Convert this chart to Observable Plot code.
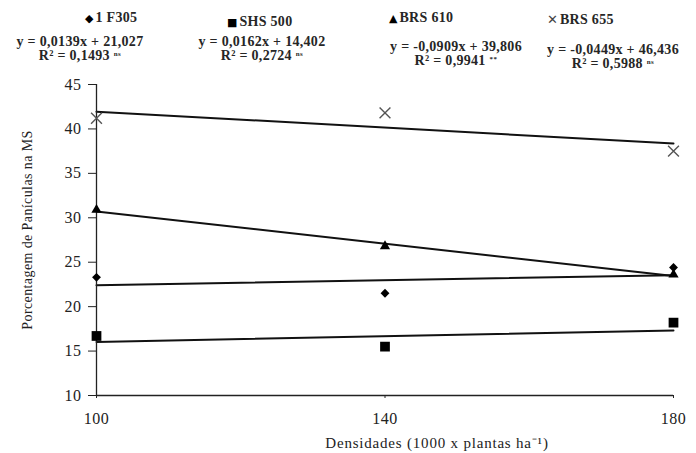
<!DOCTYPE html>
<html>
<head>
<meta charset="utf-8">
<script src="https://cdn.jsdelivr.net/npm/d3@7"></script>
<script src="https://cdn.jsdelivr.net/npm/@observablehq/plot@0.6"></script>
<style>
  html, body { margin: 0; padding: 0; background: #fff; }
  #wrap { position: relative; width: 696px; height: 453px; font-family: "Liberation Serif", "Times New Roman", serif; color: #222; }
  #wrap svg { position: absolute; left: 0; top: 0; }
  .hd { position: absolute; font-size: 14px; font-weight: bold; white-space: nowrap; line-height: 1; letter-spacing: 0.3px; color: #262626; }
  .eq { transform: translate(-50%, -50%); }
  .lg { transform: translate(0, -50%); }
  .sym { font-family: "DejaVu Sans", sans-serif; font-size: 11px; margin-right: 2px; letter-spacing: 0; color: #000; }
  .sym.x { font-size: 13px; color: #444; font-weight: normal; }
  sup.s { font-size: 7px; vertical-align: 4px; font-weight: bold; letter-spacing: 0.5px; }
</style>
</head>
<body>
<div id="wrap"></div>
<script>
// ---- data ----
const densidades = [100, 140, 180];
const series = ["1 F305", "SHS 500", "BRS 610", "BRS 655"];
const f305 = [23.3, 21.5, 24.4];
const shs500 = [16.7, 15.5, 18.2];
const brs610 = [30.9, 26.8, 23.6];
const brs655 = [41.2, 41.8, 37.5];
const slopes = [0.0139, 0.0162, -0.0909, -0.0449];
const intercepts = [21.027, 14.402, 39.806, 46.436];
const equations = ["y = 0,0139x + 21,027", "y = 0,0162x + 14,402", "y = -0,0909x + 39,806", "y = -0,0449x + 46,436"];
const r2 = ["0,1493", "0,2724", "0,9941", "0,5988"];
const signif = ["ns", "ns", "**", "ns"];
const yTicks = [10, 15, 20, 25, 30, 35, 40, 45];
const yLabel = "Porcentagem de Panículas na MS";
const xLabel = "Densidades (1000 x plantas ha⁻¹)";

// ---- build tables ----
const values = [f305, shs500, brs610, brs655];
const pts = values.map(v => densidades.map((d, i) => ({x: d, y: v[i]})));
const xr = d3.extent(densidades);
const fits = slopes.map((s, k) => xr.map(x => ({x, y: s * x + intercepts[k]})));

const font = {fontFamily: "Liberation Serif, Times New Roman, serif", fontSize: "16px", color: "#222", background: "#fff", letterSpacing: "0.5px"};

const chart = Plot.plot({
  width: 696,
  height: 453,
  marginTop: 84,
  marginBottom: 58,
  marginLeft: 96,
  marginRight: 23,
  style: font,
  x: {domain: xr},
  y: {domain: [10, 45]},
  marks: [
    ...fits.map(f => Plot.line(f, {x: "x", y: "y", stroke: "#111", strokeWidth: 2})),
    Plot.ruleX([100], {stroke: "#222", strokeWidth: 1.3}),
    Plot.ruleY([10], {stroke: "#222", strokeWidth: 1.3}),
    Plot.axisY(yTicks, {tickSize: 8, tickPadding: 7, label: null, stroke: "#222"}),
    Plot.axisX(densidades, {tickSize: 3, tickPadding: 14, label: null, stroke: "#222"}),
    Plot.dot(pts[0], {x: "x", y: "y", symbol: "diamond2", r: 4, fill: "#000", stroke: "none"}),
    Plot.dot(pts[1], {x: "x", y: "y", symbol: "square", r: 5.5, fill: "#000", stroke: "none"}),
    Plot.dot(pts[2], {x: "x", y: "y", symbol: "triangle", r: 3.8, fill: "#000", stroke: "none"}),
    Plot.dot(pts[3], {x: "x", y: "y", symbol: "times", r: 5, fill: "none", stroke: "#555", strokeWidth: 1.4}),
    Plot.text([yLabel], {frameAnchor: "left", textAnchor: "middle", dx: -69, dy: -10, rotate: -90, fontSize: 14, fill: "#222"}),
    Plot.text([xLabel], {frameAnchor: "bottom", textAnchor: "middle", dx: 52, dy: 52, fontSize: 15, fill: "#222"})
  ]
});

const wrap = document.getElementById("wrap");
wrap.appendChild(chart);
d3.select(chart).selectAll("text").filter(function() { return this.textContent === xLabel; }).style("letter-spacing", "0.8px");
d3.select(chart).selectAll("text").filter(function() { return this.textContent === yLabel; }).style("letter-spacing", "0.4px");

// ---- header: legend + equations ----
const symbols = ["◆", "■", "▲", "✕"];
const legendPos = [[85, 18], [227, 22], [389, 18], [547, 20]];
const eqPos = [[80, 42], [262, 42], [456, 47], [613, 50]];
series.forEach((s, k) => {
  const l = document.createElement("div");
  l.className = "hd lg";
  l.style.left = legendPos[k][0] + "px";
  l.style.top = legendPos[k][1] + "px";
  l.innerHTML = `<span class="sym${k === 3 ? " x" : ""}">${symbols[k]}</span>${s}`;
  wrap.appendChild(l);
  const e = document.createElement("div");
  e.className = "hd eq";
  e.style.left = eqPos[k][0] + "px";
  e.style.top = eqPos[k][1] + "px";
  e.textContent = equations[k];
  wrap.appendChild(e);
  const r = document.createElement("div");
  r.className = "hd eq";
  r.style.left = eqPos[k][0] + "px";
  r.style.top = (eqPos[k][1] + 14) + "px";
  r.innerHTML = `R² = ${r2[k]} <sup class="s">${signif[k]}</sup>`;
  wrap.appendChild(r);
});
</script>
</body>
</html>
